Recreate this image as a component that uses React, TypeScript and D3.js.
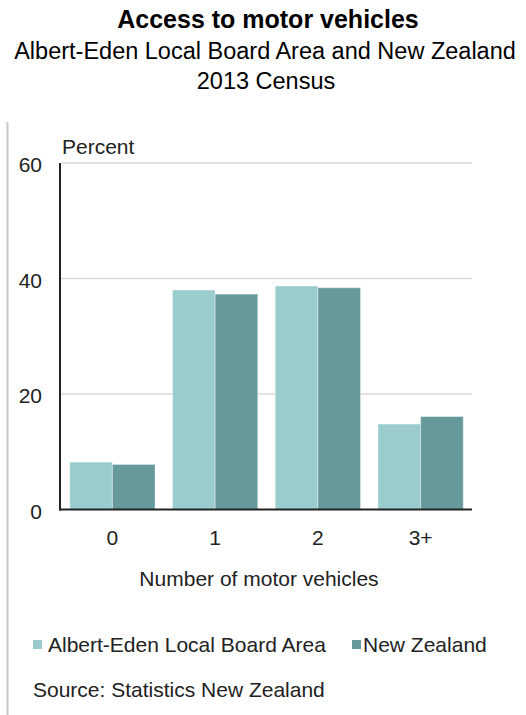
import React from "react";
import * as d3 from "d3";

const categories = ["0", "1", "2", "3+"];
const seriesNames = ["Albert-Eden Local Board Area", "New Zealand"];
const albertEden = [8.2, 38.0, 38.7, 14.8];
const newZealand = [7.8, 37.3, 38.4, 16.1];
const yTicks = [0, 20, 40, 60];
const colors = ["#9bcccd", "#669999"];

const W = 526;
const H = 715;
const font = "Arial, 'Liberation Sans', sans-serif";

export default function App() {
  const x = d3
    .scaleBand<string>()
    .domain(categories)
    .range([61, 472])
    .paddingInner(0.17)
    .paddingOuter(0.085);
  const xs = d3.scaleBand<string>().domain(seriesNames).range([0, x.bandwidth()]);
  const y = d3.scaleLinear().domain([0, 60]).range([509.5, 163]);
  const series = [albertEden, newZealand];

  return (
    <svg
      width={W}
      height={H}
      style={{ position: "absolute", left: 0, top: 0, background: "#fff" }}
      fontFamily={font}
    >
      <rect width={W} height={H} fill="#fff" />
      <text x={268} y={28} textAnchor="middle" fontSize={25} fontWeight="bold" fill="#000">
        Access to motor vehicles
      </text>
      <text x={265} y={59} textAnchor="middle" fontSize={23.5} fill="#000">
        Albert-Eden Local Board Area and New Zealand
      </text>
      <text x={266} y={89} textAnchor="middle" fontSize={23.5} fill="#000">
        2013 Census
      </text>

      <line x1={7.5} x2={7.5} y1={122} y2={H} stroke="#c8c8c8" strokeWidth={2} />

      {yTicks.map((t) => (
        <g key={t}>
          {t > 0 && (
            <line x1={61} x2={472} y1={y(t)} y2={y(t)} stroke="#d9d9d9" strokeWidth={1.5} />
          )}
          <text x={42} y={y(t) + 9} textAnchor="end" fontSize={21} fill="#222">
            {t}
          </text>
        </g>
      ))}
      <text x={62} y={154} fontSize={21} fill="#222">
        Percent
      </text>

      {categories.map((c, i) => (
        <g key={c} transform={`translate(${x(c)},0)`}>
          {series.map((s, j) => (
            <rect
              key={j}
              x={xs(seriesNames[j])}
              y={y(s[i])}
              width={xs.bandwidth()}
              height={y(0) - y(s[i])}
              fill={colors[j]}
              stroke="#ffffff"
              strokeOpacity={0.4}
              strokeWidth={1}
            />
          ))}
        </g>
      ))}

      <line x1={60} x2={60} y1={163} y2={510.5} stroke="#222" strokeWidth={2} />
      <line x1={59} x2={472} y1={509.5} y2={509.5} stroke="#222" strokeWidth={2} />

      {categories.map((c) => (
        <text
          key={c}
          x={(x(c) as number) + x.bandwidth() / 2}
          y={545}
          textAnchor="middle"
          fontSize={21}
          fill="#222"
        >
          {c}
        </text>
      ))}
      <text x={259} y={586} textAnchor="middle" fontSize={21} fill="#222">
        Number of motor vehicles
      </text>

      <rect x={33} y={640} width={9} height={9} fill={colors[0]} />
      <text x={48} y={652} fontSize={21} fill="#222">
        {seriesNames[0]}
      </text>
      <rect x={352} y={640} width={9} height={9} fill={colors[1]} />
      <text x={363} y={652} fontSize={21} fill="#222">
        {seriesNames[1]}
      </text>

      <text x={33} y={697} fontSize={21} fill="#222">
        Source: Statistics New Zealand
      </text>
    </svg>
  );
}
